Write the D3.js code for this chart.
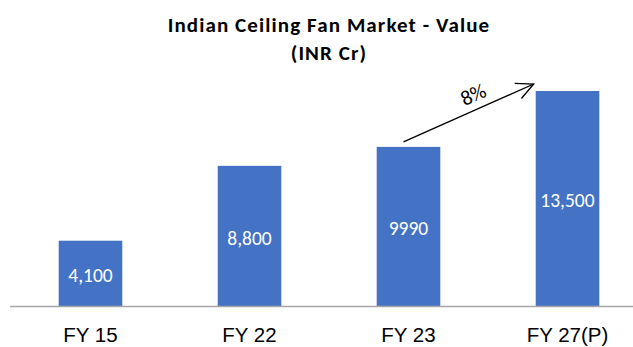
<!DOCTYPE html>
<html>
<head>
<meta charset="utf-8">
<script src="https://cdn.jsdelivr.net/npm/d3@7"></script>
<style>
  html, body { margin: 0; padding: 0; background: #fff; }
  svg { display: block; font-family: Calibri, Carlito, Lato, "Open Sans", sans-serif; }
</style>
</head>
<body>
<svg id="chart" width="633" height="347"></svg>
<script>
// Market value by fiscal year (INR crore)
const categories = ["FY 15", "FY 22", "FY 23", "FY 27(P)"];
const values = [4100, 8800, 9990, 13500];
const valueLabels = ["4,100", "8,800", "9990", "13,500"];
const titleLines = ["Indian Ceiling Fan Market - Value", "(INR Cr)"];
const growthLabel = "8%";

const svg = d3.select("#chart");
const W = 633, H = 347;
const baseY = 306;

const x = d3.scaleBand()
  .domain(categories)
  .range([11, 647])
  .paddingInner(0.6)
  .paddingOuter(0.3);

const y = d3.scaleLinear()
  .domain([0, 13500])
  .range([baseY, 91]);

// Title
svg.append("text")
  .attr("x", 329).attr("y", 32)
  .attr("text-anchor", "middle")
  .attr("font-weight", "bold")
  .attr("font-size", 21)
  .attr("letter-spacing", 1.1)
  .attr("fill", "#000")
  .selectAll("tspan")
  .data(titleLines)
  .join("tspan")
  .attr("x", 329)
  .attr("dy", (d, i) => i === 0 ? 0 : 28)
  .text(d => d);

// Bars
svg.append("g")
  .selectAll("rect")
  .data(values)
  .join("rect")
  .attr("x", (d, i) => x(categories[i]))
  .attr("y", d => y(d))
  .attr("width", x.bandwidth())
  .attr("height", d => baseY - y(d))
  .attr("fill", "#4472C4");

// Value labels centred inside bars
svg.append("g")
  .selectAll("text")
  .data(values)
  .join("text")
  .attr("x", (d, i) => x(categories[i]) + x.bandwidth() / 2)
  .attr("y", d => (y(d) + baseY) / 2 + 2)
  .attr("dy", "0.35em")
  .attr("text-anchor", "middle")
  .attr("font-size", 19.5)
  .attr("fill", "#fff")
  .text((d, i) => valueLabels[i]);

// Baseline
svg.append("line")
  .attr("x1", 10).attr("x2", W)
  .attr("y1", baseY + 0.5).attr("y2", baseY + 0.5)
  .attr("stroke", "#A6A6A6")
  .attr("stroke-width", 1.3);

// Category axis labels
const xAxis = d3.axisBottom(x).tickSize(0).tickPadding(0);
const gx = svg.append("g")
  .attr("transform", `translate(0,${baseY})`)
  .call(xAxis);
gx.select(".domain").remove();
gx.selectAll("text")
  .attr("y", 36)
  .attr("dy", null)
  .attr("font-size", 20.5)
  .attr("font-family", null)
  .attr("fill", "#000");

// Growth arrow from FY23 bar to FY27(P) bar
const x0 = x(categories[2]) + x.bandwidth() / 2 - 5;
const y0 = y(values[2]) - 5;
const x1 = x(categories[3]) - 2;
const y1 = y(values[3]) - 7;
const ang = Math.atan2(y1 - y0, x1 - x0);
const headLen = 19, headSpread = 0.45;

const arrow = svg.append("g")
  .attr("stroke", "#000")
  .attr("stroke-width", 1.3)
  .attr("fill", "none");
arrow.append("line")
  .attr("x1", x0).attr("y1", y0)
  .attr("x2", x1).attr("y2", y1);
arrow.append("path")
  .attr("d", d3.line()([
    [x1 - headLen * Math.cos(ang - headSpread), y1 - headLen * Math.sin(ang - headSpread)],
    [x1, y1],
    [x1 - headLen * Math.cos(ang + headSpread), y1 - headLen * Math.sin(ang + headSpread)]
  ]));

const mx = x0 + (x1 - x0) * 0.55, my = y0 + (y1 - y0) * 0.55;
svg.append("text")
  .attr("transform", `translate(${mx + 1},${my - 9}) rotate(${ang * 180 / Math.PI})`)
  .attr("text-anchor", "middle")
  .attr("font-size", 21)
  .attr("fill", "#000")
  .text(growthLabel);
</script>
</body>
</html>
